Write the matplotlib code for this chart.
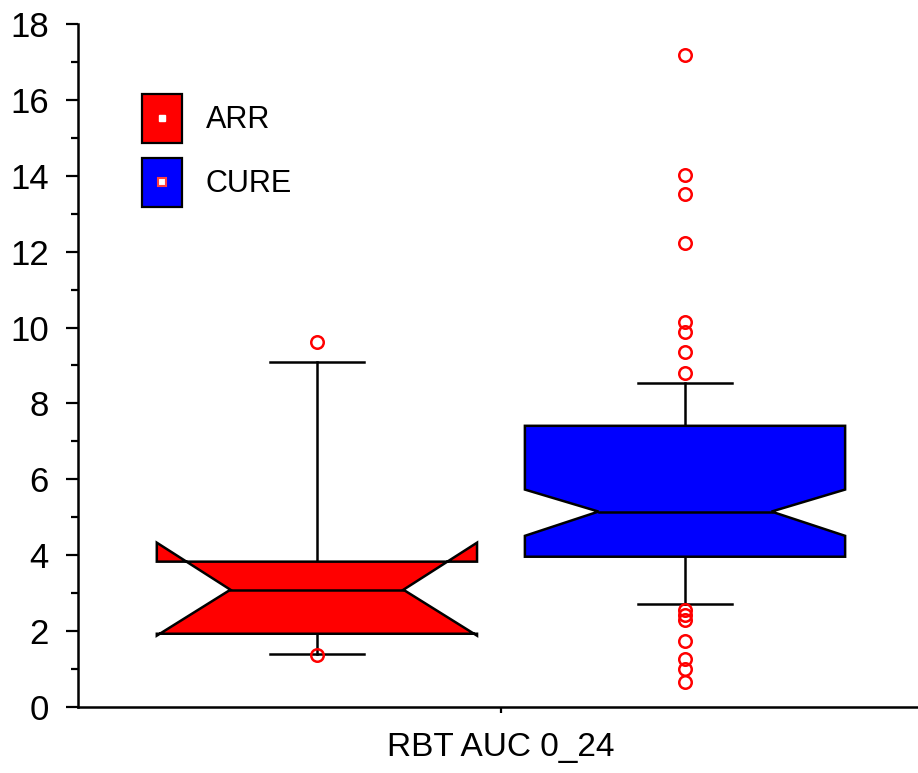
import matplotlib.pyplot as plt
from matplotlib.patches import Patch
from matplotlib.lines import Line2D
from matplotlib.legend_handler import HandlerTuple, HandlerLine2D
import numpy as np

plt.rcParams['font.family'] = ['Liberation Sans', 'DejaVu Sans']

groups = ['ARR', 'CURE']
colors = ['#ff0000', '#0000ff']
q1 = [1.93, 3.96]
q3 = [3.83, 7.41]
med = [3.09, 5.15]
cilo = [1.88, 4.51]
cihi = [4.33, 5.73]
whislo = [1.40, 2.72]
whishi = [9.10, 8.55]
fliers = [
    [9.63, 1.38],
    [17.18, 14.02, 13.51, 12.22, 10.15, 9.88, 9.35, 8.79,
     2.56, 2.43, 2.30, 1.75, 1.27, 1.00, 0.65],
]
xlabel = 'RBT AUC 0_24'


class CenteredMarker(HandlerLine2D):
    # keep the small marker in the middle of the legend swatch
    def create_artists(self, legend, orig_handle, xdescent, ydescent,
                       width, height, fontsize, trans):
        arts = super().create_artists(legend, orig_handle, xdescent, ydescent,
                                      width, height, fontsize, trans)
        for a in arts:
            a.set_ydata(np.full(len(a.get_xdata()), height / 2 - ydescent))
        return arts


fig = plt.figure(figsize=(9.18, 7.73), dpi=100)
ax = fig.add_axes([0.085, 0.0854, 0.915, 0.8836])

hw, nw, cw = 0.435, 0.235, 0.128
for i in range(len(groups)):
    p = i + 1
    xs = [p - hw, p + hw, p + hw, p + nw, p + hw, p + hw, p - hw, p - hw, p - nw, p - hw]
    ys = [q1[i], q1[i], cilo[i], med[i], cihi[i], q3[i], q3[i], cihi[i], med[i], cilo[i]]
    ax.fill(xs, ys, facecolor=colors[i], edgecolor='black', lw=1.8, zorder=2)
    ax.plot([p - nw, p + nw], [med[i], med[i]], color='black', lw=1.8, zorder=3)
    ax.plot([p, p], [q3[i], whishi[i]], color='black', lw=1.8, zorder=1)
    ax.plot([p, p], [q1[i], whislo[i]], color='black', lw=1.8, zorder=1)
    ax.plot([p - cw, p + cw], [whishi[i], whishi[i]], color='black', lw=1.8, zorder=1)
    ax.plot([p - cw, p + cw], [whislo[i], whislo[i]], color='black', lw=1.8, zorder=1)
    ax.plot(np.full(len(fliers[i]), p), fliers[i], 'o', mfc='none', mec='red',
            ms=9, mew=1.8, zorder=4)

ax.set_xlim(0.351, 2.633)
ax.set_ylim(0, 18)
ax.set_xticks([1.5])
ax.set_xticklabels([xlabel])
ax.set_yticks(np.arange(0, 19, 2))
ax.set_yticks(np.arange(1, 18, 2), minor=True)
for s in ['top', 'right']:
    ax.spines[s].set_visible(False)
for s in ['left', 'bottom']:
    ax.spines[s].set_linewidth(1.8)
ax.tick_params(axis='y', which='major', length=9, width=1.6, pad=12, labelsize=25)
ax.tick_params(axis='y', which='minor', length=5, width=1.6)
ax.tick_params(axis='x', length=4, width=1.6, pad=14, labelsize=24)

handles = [
    (Patch(facecolor=colors[0], edgecolor='black', lw=1.6),
     Line2D([], [], ls='', marker='s', mfc='white', mec='white', ms=5)),
    (Patch(facecolor=colors[1], edgecolor='black', lw=1.6),
     Line2D([], [], ls='', marker='s', mfc='white', mec='#ff4040', ms=6, mew=1.5)),
]
ax.legend(handles, groups,
          handler_map={tuple: HandlerTuple(ndivide=1, pad=0), Line2D: CenteredMarker()},
          loc='upper left', bbox_to_anchor=(0.076, 0.8975), frameon=False,
          fontsize=22, handlelength=1.31, handleheight=2.08, labelspacing=0.5,
          handletextpad=0.78, borderpad=0, borderaxespad=0)

fig.savefig('out.png', dpi=100)
